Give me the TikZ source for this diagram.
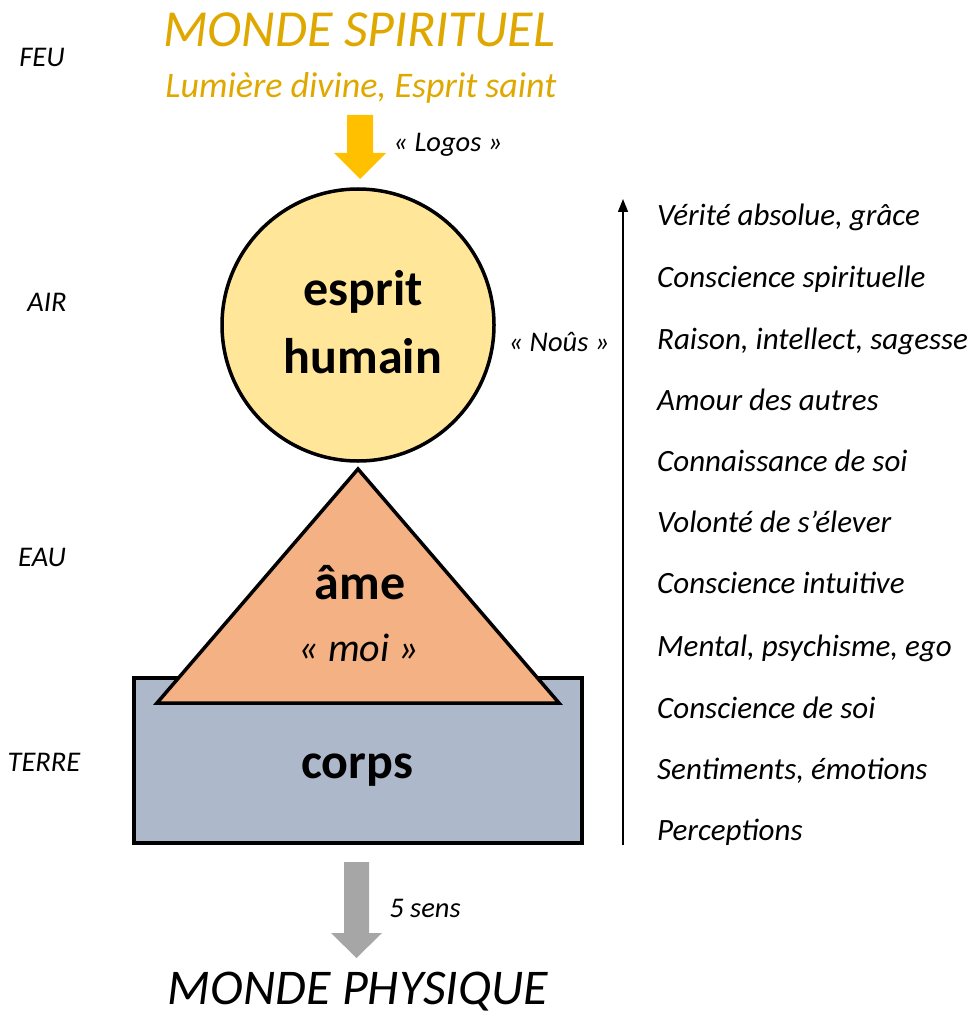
\documentclass[tikz,border=0pt]{standalone}
\usepackage{fontspec}
\setmainfont{Carlito}
\usetikzlibrary{arrows.meta}
\definecolor{goldtxt}{HTML}{DFA800}
\definecolor{goldarrow}{HTML}{FFC000}
\definecolor{grayarrow}{HTML}{A6A6A6}
\definecolor{circfill}{HTML}{FFE699}
\definecolor{trifill}{HTML}{F4B183}
\definecolor{rectfill}{HTML}{ADB9CA}
\tikzset{
  shapeline/.style={draw=black, line width=3.5pt, line join=miter},
  bigbold/.style={font=\fontsize{50}{58}\selectfont\bfseries, inner sep=0pt},
  title/.style={font=\fontsize{52}{60}\selectfont\itshape, inner sep=0pt},
  subtitle/.style={font=\fontsize{36}{42}\selectfont\itshape, inner sep=0pt},
  small/.style={font=\fontsize{28.5}{32}\selectfont\itshape, inner sep=0pt},
  listitem/.style={font=\fontsize{31}{36}\selectfont\itshape, inner sep=0pt, anchor=west, text height=0.7em, text depth=0.2em},
}
\begin{document}
\begin{tikzpicture}[x=1pt,y=-1pt]
\useasboundingbox (0,0) rectangle (970,1016);

% body rectangle
\draw[shapeline, fill=rectfill] (134,678) rectangle (582,843);
% soul triangle
\draw[shapeline, fill=trifill] (157,703) -- (358,469) -- (559,703) -- cycle;
% spirit circle
\node[circle, shapeline, fill=circfill, minimum size=272pt, inner sep=0pt] (esprit) at (358,325) {};

% texts in shapes
\node[bigbold] (t1) at (363,292) {esprit};
\node[bigbold] (t2) at (363,356) {humain};
\node[bigbold] (ame) at (360,583) {âme};
\node[font=\fontsize{40}{46}\selectfont\itshape, inner sep=0pt] (moi) at (359,648) {« moi »};
\node[bigbold] (corps) at (357,770) {corps};

% titles
\node[title, text=goldtxt] (ms) at (359,30) {MONDE SPIRITUEL};
\node[subtitle, text=goldtxt] (lum) at (361,88) {Lumière divine, Esprit saint};
\node[font=\fontsize{50}{58}\selectfont\itshape, inner sep=0pt] (mp) at (358,992) {MONDE PHYSIQUE};

% gold block arrow
\fill[goldarrow] (347,115) -- (373,115) -- (373,153) -- (386,153) -- (360,179) -- (334,153) -- (347,153) -- cycle;
\node[small] (logos) at (448,145) {« Logos »};

% gray block arrow
\fill[grayarrow] (344,862) -- (369,862) -- (369,933) -- (382,933) -- (356.5,958) -- (331,933) -- (344,933) -- cycle;
\node[small] (sens) at (425,908) {5 sens};

% Noûs
\node[small] (nous) at (559,342) {« Noûs »};

% left labels
\node[small] (feu) at (42,57) {FEU};
\node[small] (air) at (47,302) {AIR};
\node[small] (eau) at (42,557) {EAU};
\node[small] (terre) at (44,762) {TERRE};

% vertical arrow
\coordinate (vb) at (623,845);
\coordinate (vt) at (623,199);
\draw[line width=1.5pt, -{Triangle[length=13pt,width=10pt]}] (vb) -- (vt);

% list
\node[listitem] (l1) at (657,223) {Vérité absolue, grâce};
\node[listitem] (l2) at (657,285) {Conscience spirituelle};
\node[listitem] (l3) at (657,347) {Raison, intellect, sagesse};
\node[listitem] (l4) at (657,408) {Amour des autres};
\node[listitem] (l5) at (657,469) {Connaissance de soi};
\node[listitem] (l6) at (657,530) {Volonté de s’élever};
\node[listitem] (l7) at (657,591) {Conscience intuitive};
\node[listitem] (l8) at (657,654) {Mental, psychisme, ego};
\node[listitem] (l9) at (657,716) {Conscience de soi};
\node[listitem] (l10) at (657,777) {Sentiments, émotions};
\node[listitem] (l11) at (657,838) {Perceptions};
\end{tikzpicture}
\end{document}
